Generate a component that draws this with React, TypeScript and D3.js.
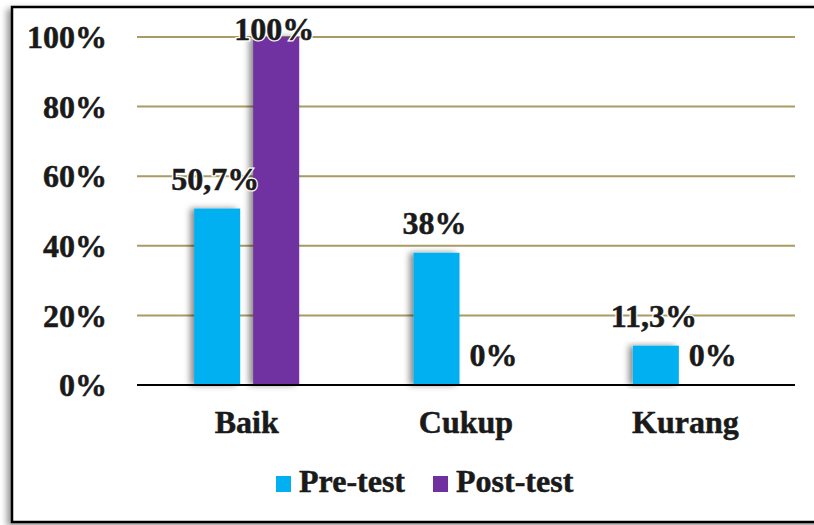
import React from "react";
import * as d3 from "d3";

const categories = ["Baik", "Cukup", "Kurang"];
const preTest = [50.7, 38, 11.3];
const postTest = [100, 0, 0];
const preLabels = ["50,7%", "38%", "11,3%"];
const postLabels = ["100%", "0%", "0%"];
const yTicks = [0, 20, 40, 60, 80, 100];
const seriesNames = ["Pre-test", "Post-test"];
const colors = ["#00B0F0", "#7030A0"];

const W = 814;
const H = 525;
const left = 137;
const right = 795;
const top = 37;
const bottom = 385;
const font = "Liberation Serif, Tinos, Times New Roman, serif";

export default function App() {
  const x = d3.scaleBand<string>().domain(categories).range([left, right]).padding(0);
  const y = d3.scaleLinear().domain([0, 100]).range([bottom, top]);
  const barW = 46;
  const gap = 13;
  const series = [preTest, postTest];
  const labels = [preLabels, postLabels];

  const textProps = {
    fontFamily: font,
    fontWeight: 700,
    fontSize: 32,
    fill: "#1a1a1a",
    stroke: "#1a1a1a",
    strokeWidth: 0.5,
  } as const;

  return (
    <svg
      width={W}
      height={H}
      style={{ position: "absolute", left: 0, top: 0, background: "#fff" }}
    >
      <defs>
        <filter id="barShadow" x="-50%" y="-10%" width="200%" height="120%">
          <feDropShadow dx={-4} dy={0} stdDeviation={3} floodColor="#000" floodOpacity={0.45} />
        </filter>
        <filter id="frameShadow" x="-5%" y="-5%" width="110%" height="110%">
          <feDropShadow dx={-4} dy={3} stdDeviation={3} floodColor="#000" floodOpacity={0.4} />
        </filter>
      </defs>
      <rect x={0} y={0} width={W} height={H} fill="#fff" />
      {/* frame */}
      <rect
        x={12}
        y={7}
        width={830}
        height={515}
        fill="#fff"
        stroke="#000"
        strokeWidth={2.5}
        filter="url(#frameShadow)"
      />
      {/* gridlines */}
      {yTicks.filter((t) => t > 0).map((t) => (
        <line key={t} x1={left} x2={right} y1={y(t)} y2={y(t)} stroke="#A99B63" strokeWidth={2} />
      ))}
      {/* y labels */}
      {yTicks.map((t) => (
        <text key={t} x={107} y={y(t)} dy="0.35em" textAnchor="end" {...textProps}>
          {t}%
        </text>
      ))}
      {/* bars */}
      {categories.map((c, i) => {
        const cx = (x(c) as number) + x.bandwidth() / 2;
        return series.map((s, k) => {
          const v = s[i];
          if (v <= 0) return null;
          const bx = k === 0 ? cx - gap / 2 - barW : cx + gap / 2;
          return (
            <rect
              key={c + k}
              x={bx}
              y={y(v)}
              width={barW}
              height={y(0) - y(v)}
              fill={colors[k]}
              filter="url(#barShadow)"
            />
          );
        });
      })}
      {/* axis line */}
      <line x1={left} x2={right} y1={y(0)} y2={y(0)} stroke="#000" strokeWidth={2} />
      {/* data labels */}
      {categories.map((c, i) => {
        const cx = (x(c) as number) + x.bandwidth() / 2;
        return series.map((s, k) => {
          const v = s[i];
          const lx = k === 0 ? cx - gap / 2 - barW / 2 : cx + gap / 2 + barW / 2;
          const ly = Math.max(y(v) - 19, top + 3);
          return (
            <g key={"l" + c + k}>
              <text
                x={lx - 2}
                y={ly}
                textAnchor="middle"
                {...textProps}
                fill="#fff"
                stroke="#fff"
                strokeWidth={3}
              >
                {labels[k][i]}
              </text>
              <text x={lx - 2} y={ly} textAnchor="middle" {...textProps}>
                {labels[k][i]}
              </text>
            </g>
          );
        });
      })}
      {/* category labels */}
      {categories.map((c) => (
        <text
          key={"c" + c}
          x={(x(c) as number) + x.bandwidth() / 2}
          y={433}
          textAnchor="middle"
          {...textProps}
        >
          {c}
        </text>
      ))}
      {/* legend */}
      {seriesNames.map((n, k) => {
        const lx = k === 0 ? 276 : 433;
        return (
          <g key={n}>
            <rect x={lx} y={476} width={15} height={16} fill={colors[k]} />
            <text x={lx + 23} y={492} {...textProps}>
              {n}
            </text>
          </g>
        );
      })}
    </svg>
  );
}
